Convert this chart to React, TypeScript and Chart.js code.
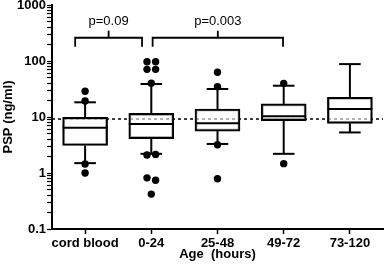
import React, { useEffect, useRef } from 'react';
import { Chart, registerables } from 'chart.js';

Chart.register(...registerables);

const categories = ['cord blood', '0-24', '25-48', '49-72', '73-120'];
const q1 = [3.1, 4.1, 5.6, 8.6, 7.7];
const medians = [6.4, 7.5, 7.7, 10.3, 13.9];
const q3 = [9.9, 11.6, 13.9, 17.1, 22.5];
const whiskerLow = [1.5, 2.2, 3.3, 2.2, 5.3];
const whiskerHigh = [18.3, 38.8, 31.6, 36.2, 88];

const outlierGroup = [0, 0, 0, 0, 1, 1, 1, 1, 1, 1, 1, 1, 1, 1, 2, 2, 2, 2, 3, 3];
const outlierJitter = [0, 0, 0, 0, -0.065, 0.065, -0.065, 0.065, 0, -0.065, 0.065, -0.065, 0.065, 0, 0, 0, 0, 0, 0, 0];
const outlierValues = [28.8, 19.3, 1.45, 1.0, 97, 97, 71, 71, 40, 2.1, 2.15, 0.82, 0.74, 0.42, 62.8, 34.8, 3.2, 0.79, 39.9, 1.47];

const referenceLevel = 9.2;
const yTickValues = [0.1, 1, 10, 100, 1000];

const comparisonLabels = ['p=0.09', 'p=0.003'];
const comparisonFrom = [-0.15, 1.02];
const comparisonTo = [0.86, 2.99];
const bracketLeg = 180;
const bracketBar = 260;
const bracketTick = 348;
const bracketLabel = 507;

const FONT = '"Liberation Sans", Arial, Helvetica, sans-serif';

const boxPartsPlugin = {
  id: 'boxParts',
  afterDatasetsDraw(chart: any) {
    const { ctx, scales } = chart;
    const x = scales.x;
    const y = scales.y;
    const bars = chart.getDatasetMeta(1).data;
    ctx.save();
    ctx.strokeStyle = '#000';
    ctx.lineCap = 'butt';
    const seg = (x1: number, y1: number, x2: number, y2: number) => {
      ctx.beginPath();
      ctx.moveTo(x1, y1);
      ctx.lineTo(x2, y2);
      ctx.stroke();
    };
    categories.forEach((_, i) => {
      const cx = x.getPixelForValue(i);
      const half = bars[i] ? bars[i].width / 2 : 22;
      const capHalf = half * 0.48;
      ctx.lineWidth = 2;
      const my = y.getPixelForValue(medians[i]);
      seg(cx - half, my, cx + half, my);
      const top = y.getPixelForValue(q3[i]);
      const hi = y.getPixelForValue(whiskerHigh[i]);
      seg(cx, top, cx, hi);
      seg(cx - capHalf, hi, cx + capHalf, hi);
      const bot = y.getPixelForValue(q1[i]);
      const lo = y.getPixelForValue(whiskerLow[i]);
      seg(cx, bot, cx, lo);
      seg(cx - capHalf, lo, cx + capHalf, lo);
    });
    ctx.lineWidth = 1.8;
    ctx.fillStyle = '#000';
    ctx.font = `13px ${FONT}`;
    ctx.textAlign = 'center';
    ctx.textBaseline = 'middle';
    comparisonLabels.forEach((label, k) => {
      const xl = x.getPixelForValue(comparisonFrom[k]);
      const xr = x.getPixelForValue(comparisonTo[k]);
      const xm = (xl + xr) / 2;
      const yLeg = y.getPixelForValue(bracketLeg);
      const yBar = y.getPixelForValue(bracketBar);
      const yTick = y.getPixelForValue(bracketTick);
      ctx.beginPath();
      ctx.moveTo(xl, yLeg);
      ctx.lineTo(xl, yBar);
      ctx.lineTo(xr, yBar);
      ctx.lineTo(xr, yLeg);
      ctx.stroke();
      seg(xm, yBar, xm, yTick);
      ctx.fillText(label, xm, y.getPixelForValue(bracketLabel));
    });
    ctx.restore();
  },
};

export default function App() {
  const canvasRef = useRef<HTMLCanvasElement | null>(null);

  useEffect(() => {
    if (!canvasRef.current) return;
    Chart.defaults.font.family = FONT;
    Chart.defaults.color = '#000';

    const boxData = categories.map((_, i) => ({ x: i, y: [q1[i], q3[i]] }));
    const outlierData = outlierValues.map((v, k) => ({ x: outlierGroup[k] + outlierJitter[k], y: v }));

    const chart = new Chart(canvasRef.current, {
      type: 'bar',
      data: {
        datasets: [
          {
            type: 'line',
            label: 'reference',
            data: [
              { x: -0.5, y: referenceLevel },
              { x: 4.5, y: referenceLevel },
            ],
            borderColor: '#000',
            borderWidth: 1.5,
            borderDash: [3, 3],
            pointRadius: 0,
            fill: false,
            order: 10,
          } as any,
          {
            type: 'bar',
            label: 'box',
            data: boxData as any,
            backgroundColor: 'rgba(255,255,255,0.6)',
            borderColor: '#000',
            borderWidth: 2,
            borderSkipped: false,
            barThickness: 45,
            order: 5,
          } as any,
          {
            type: 'scatter',
            label: 'outliers',
            data: outlierData,
            backgroundColor: '#000',
            borderColor: '#000',
            pointRadius: 3.7,
            pointBorderWidth: 0,
            showLine: false,
            order: 0,
          } as any,
        ],
      },
      options: {
        animation: false,
        responsive: true,
        maintainAspectRatio: false,
        events: [],
        layout: { padding: { top: 5, right: 1, left: 0, bottom: 0 } },
        plugins: {
          legend: { display: false },
          tooltip: { enabled: false },
        },
        scales: {
          x: {
            type: 'linear',
            min: -0.5,
            max: 4.5,
            offset: false,
            afterBuildTicks: (s: any) => {
              s.ticks = categories.map((_, i) => ({ value: i }));
            },
            afterFit: (s: any) => {
              s.height = 36;
              s.paddingLeft = 0;
              s.paddingRight = 0;
            },
            ticks: {
              autoSkip: false,
              maxRotation: 0,
              padding: 2,
              color: '#000',
              font: { size: 13, weight: 'bold' },
              callback: (v: any) => categories[v] ?? '',
            },
            grid: {
              offset: false,
              drawOnChartArea: false,
              drawTicks: true,
              tickLength: 5,
              tickColor: '#000',
              tickWidth: 1.5,
            },
            border: { display: true, color: '#000', width: 2 },
            title: {
              display: true,
              text: 'Age  (hours)',
              color: '#000',
              font: { size: 13, weight: 'bold' },
              padding: { top: 0, bottom: 3 },
            },
          } as any,
          y: {
            type: 'logarithmic',
            min: 0.1,
            max: 1000,
            afterBuildTicks: (s: any) => {
              const ticks: any[] = [];
              yTickValues.slice(0, -1).forEach((d) => {
                for (let k = 1; k <= 9; k++) {
                  ticks.push({ value: k === 1 ? d : d * k, major: k === 1 });
                }
              });
              ticks.push({ value: yTickValues[yTickValues.length - 1], major: true });
              s.ticks = ticks;
            },
            afterFit: (s: any) => {
              s.width = 52;
              s.paddingTop = 0;
              s.paddingBottom = 0;
            },
            ticks: {
              autoSkip: false,
              padding: 1,
              color: '#000',
              font: { size: 13, weight: 'bold' },
              callback: (v: any) => (yTickValues.includes(v) ? String(v) : ''),
            },
            grid: {
              drawOnChartArea: false,
              drawTicks: true,
              tickLength: 5,
              tickColor: '#000',
              tickWidth: 1.2,
            },
            border: { display: true, color: '#000', width: 2 },
            title: {
              display: true,
              text: 'PSP (ng/ml)',
              color: '#000',
              font: { size: 13, weight: 'bold' },
              padding: { top: 1, bottom: 0 },
            },
          } as any,
        },
      },
      plugins: [boxPartsPlugin],
    });

    return () => chart.destroy();
  }, []);

  return (
    <div style={{ position: 'absolute', left: 0, top: 0, width: 387, height: 265, background: '#fff' }}>
      <canvas ref={canvasRef} />
    </div>
  );
}
